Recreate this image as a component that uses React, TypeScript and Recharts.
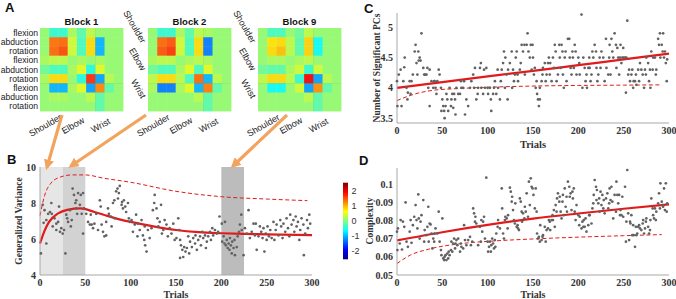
import React from 'react'
import {
  ComposedChart,
  ScatterChart,
  BarChart,
  Scatter,
  Line,
  Bar,
  XAxis,
  YAxis,
  ReferenceArea,
  ReferenceLine,
} from 'recharts'

// ---------- data ----------
const trialTicks = [0, 50, 100, 150, 200, 250, 300]
const varianceTicks = [4, 6, 8, 10]
const pcTicks = [3.5, 4, 4.5, 5]
const complexityTicks = [0.05, 0.06, 0.07, 0.08, 0.09, 0.1]
const colorbarTicks = [-2, -1, 0, 1, 2]

const jointRows = ['flexion', 'abduction', 'rotation', 'flexion', 'abduction', 'rotation', 'flexion', 'abduction', 'rotation']
const jointGroups = ['Shoulder', 'Elbow', 'Wrist']
const groupCenters = [1.5, 4.5, 7.5]
const rowCenters = [0.5, 1.5, 2.5, 3.5, 4.5, 5.5, 6.5, 7.5, 8.5]
const blockNames = ['Block 1', 'Block 2', 'Block 9']

const block1 = [
  [0.1, -0.4, -0.4, 0.2, -0.2, 0.3, 0.1, 0.1, 0.1],
  [0.1, 1.35, 1.4, 0.4, -0.3, 0.8, -1.0, 0.1, 0.1],
  [0.1, 1.4, 1.55, 0.4, -0.3, 0.8, -1.0, 0.1, 0.1],
  [0.2, 0.3, 0.3, 0.1, 0.2, 0.1, 0.2, 0.1, 0.1],
  [-0.1, -0.3, -0.3, 0.2, 0.5, -0.5, 0.5, 0.1, 0.1],
  [0.2, 0.8, 0.8, 0.1, -0.5, 1.7, -1.1, 0.3, 0.1],
  [0.1, -1.0, -1.0, 0.2, 0.5, -1.1, 1.25, -0.2, 0.1],
  [0.1, 0.2, 0.2, 0.1, 0.1, 0.3, -0.2, 0.1, 0.1],
  [0.1, 0.1, 0.1, 0.1, 0.1, 0.1, -0.2, 0.1, 0.1],
]
const block2 = [
  [0.1, -0.4, -0.4, 0.2, -0.2, 0.3, 0.2, 0.1, 0.1],
  [0.1, 1.4, 1.5, 0.4, -0.3, 0.8, -1.3, 0.1, 0.1],
  [0.1, 1.5, 1.65, 0.4, -0.3, 0.8, -1.3, 0.1, 0.1],
  [0.2, 0.3, 0.3, 0.1, 0.2, 0.3, 0.2, 0.1, 0.1],
  [-0.1, -0.3, -0.3, 0.2, 0.5, -0.3, 0.5, 0.1, 0.1],
  [0.3, 0.8, 0.8, 0.3, -0.3, 1.4, -1.0, 0.3, 0.1],
  [0.2, -1.3, -1.3, 0.2, 0.5, -1.0, 1.3, -0.2, 0.1],
  [0.1, 0.1, 0.1, 0.1, 0.1, 0.3, -0.2, 0.1, 0.1],
  [0.1, 0.1, 0.1, 0.1, 0.1, 0.1, -0.2, 0.1, 0.1],
]
const block9 = [
  [0.1, -0.3, -0.3, 0.1, -0.1, 0.3, 0.1, 0.1, 0.1],
  [0.1, 0.75, 0.8, 0.3, -0.2, 0.85, -0.6, 0.1, 0.1],
  [0.1, 0.8, 0.95, 0.3, -0.2, 0.85, -0.6, 0.1, 0.1],
  [0.1, 0.2, 0.2, 0.1, 0.2, 0.3, 0.1, 0.1, 0.1],
  [-0.1, -0.2, -0.2, 0.2, 0.4, -0.4, 0.4, 0.1, 0.1],
  [0.3, 0.8, 0.8, 0.3, -0.4, 1.95, -1.1, 0.3, 0.1],
  [0.1, -0.6, -0.6, 0.1, 0.4, -1.1, 1.2, -0.2, 0.1],
  [0.1, 0.1, 0.1, 0.1, 0.1, 0.3, -0.2, 0.1, 0.1],
  [0.1, 0.1, 0.1, 0.1, 0.1, 0.1, -0.2, 0.1, 0.1],
]

// trial windows shaded in panel B
const shadedTrials = [[0, 25], [25, 50], [200, 225]]

// panel B: generalized variance
const variancePoints: [number, number][] = [
  [1, 5.2], [3, 7.9], [4, 6.9], [5, 7.6], [7, 7.05], [7, 5.75], [9, 7.4], [11, 7.5], [12.5, 8.0], [13, 7.4],
  [14, 6.7], [16, 7.15], [18, 6.85], [18, 6.5], [20, 6.95], [21, 7.8], [22, 6.4], [23.5, 6.6], [25, 6.3], [26.5, 6.5],
  [28, 5.2], [29, 7.35], [30, 7.15], [31, 6.95], [33, 7.6], [34, 6.7], [35, 7.05], [36, 8.8], [37.5, 8.45], [39, 8.0],
  [40, 8.15], [40, 7.7], [41, 7.4], [42, 8.55], [44, 7.9], [45, 8.45], [46, 7.4], [47.5, 8.55], [48.5, 7.7], [47.5, 6.3],
  [51, 7.4], [53, 6.95], [55, 6.8], [56, 7.35], [57, 6.8], [58.5, 6.6], [60, 6.85], [62, 7.4], [64, 6.5], [66, 8.15],
  [67, 7.8], [68, 6.8], [69.5, 6.4], [71, 6.15], [73, 6.2], [73, 6.95], [75, 7.7], [76, 7.4], [78, 7.25], [79, 6.7],
  [80.5, 8.0], [82, 8.15], [82.5, 7.15], [84, 8.65], [85.5, 8.8], [86, 8.25], [87, 8.55], [88, 8.95], [90, 7.9], [90.5, 8.05],
  [91.5, 7.7], [92.5, 8.15], [94, 7.8], [95, 7.5], [97, 8.0], [98, 7.15], [99, 6.95], [101, 7.05], [102.5, 6.4], [104.5, 6.8],
  [106, 7.35], [107.5, 6.15], [108, 6.85], [110, 6.5], [112, 7.05], [113.5, 6.2], [115, 5.95], [115.5, 6.7], [116, 5.65], [117.5, 5.3],
  [119, 6.5], [121, 6.05], [123, 6.6], [124.5, 7.6], [126, 8.0], [126.5, 8.45], [128.5, 7.7], [129.5, 7.15], [130.5, 6.7], [132, 6.95],
  [133.5, 7.9], [134.5, 6.3], [136, 6.5], [137.5, 7.05], [139.5, 6.8], [141, 6.15], [143, 6.6], [145, 6.3], [147, 6.85], [148.5, 5.95],
  [150.5, 6.05], [152.5, 7.15], [153.5, 6.5], [154.5, 5.95], [155.5, 5.65], [154.5, 4.95], [157, 5.4], [158, 5.0], [159, 5.55], [160.5, 5.3],
  [162, 5.5], [163.5, 6.15], [164.5, 5.2], [165.5, 5.85], [167.5, 5.55], [169, 6.05], [171, 5.75], [171.5, 6.2], [173, 5.4], [174.5, 5.95],
  [176.5, 6.15], [177.5, 5.65], [179, 6.4], [180, 6.05], [182, 6.2], [183, 5.5], [184, 5.85], [185.5, 6.15], [187.5, 6.4], [188.5, 5.95],
  [190, 6.6], [191, 6.2], [193, 6.5], [195, 6.3], [196.5, 6.4], [198, 7.25], [200.5, 6.85], [201, 5.85], [202.5, 6.15], [203.5, 5.75],
  [204, 6.95], [205, 5.65], [206, 5.95], [207, 5.5], [208, 5.75], [209, 5.4], [209.5, 6.05], [210.5, 5.65], [211.5, 5.2], [212, 5.85],
  [213.5, 5.5], [214.5, 5.95], [215, 5.1], [217, 5.55], [218, 6.15], [219.5, 6.4], [220.5, 6.8], [222, 7.35], [222.5, 6.5], [224.5, 5.1],
  [226, 6.6], [228, 6.3], [230, 7.6], [231.5, 6.05], [233.5, 6.4], [235.5, 6.85], [237, 6.2], [238, 6.85], [239, 5.4], [241, 6.15],
  [242.5, 6.7], [244, 6.4], [245.5, 6.05], [246.5, 6.6], [247.5, 5.3], [249, 6.3], [250, 5.95], [251, 6.7], [252.5, 6.15], [254, 6.5],
  [255.5, 6.05], [257.5, 6.95], [258.5, 5.95], [260, 6.5], [261, 6.8], [263, 6.2], [265, 7.05], [266, 6.7], [267.5, 6.05], [268.5, 6.85],
  [270.5, 6.4], [272, 7.15], [273.5, 6.6], [275, 6.15], [276, 7.35], [277.5, 6.8], [279.5, 7.05], [280.5, 6.4], [282, 7.25], [283, 6.7],
  [284.5, 6.95], [286, 5.95], [287, 6.5], [288.5, 7.15], [290.5, 6.8], [291, 5.1], [292.5, 6.3], [294.5, 7.05], [295.5, 6.6], [297, 7.35],
  [298, 6.85],
]
const varianceFit: [number, number][] = [
  [0, 5.75], [5, 6.45], [10, 6.95], [20, 7.42], [30, 7.62], [45, 7.7], [60, 7.5], [70, 7.35], [80, 7.2], [90, 7.06],
  [100, 6.95], [125, 6.7], [150, 6.5], [175, 6.38], [200, 6.32], [225, 6.28], [250, 6.26], [300, 6.22],
]
const varianceUpper: [number, number][] = [
  [0, 7.3], [5, 8.4], [12, 9.1], [23, 9.45], [35, 9.56], [50, 9.56], [70, 9.38], [100, 9.15], [150, 8.65], [200, 8.35],
  [250, 8.22], [295, 8.13],
]

// panel C: number of significant PCs
const pcPoints: [number, number][] = [
  [0, 4.11], [0.5, 3.7], [2, 4.22], [4, 4.3], [5, 3.7], [7, 4.11], [8, 4.34], [8.5, 4.5], [10.5, 4.0], [11.5, 3.81],
  [12, 3.92], [14, 4.11], [15, 3.9], [16, 4.11], [17.5, 4.22], [19.5, 4.6], [20.5, 4.71], [21.5, 4.41], [22.5, 4.22], [23.5, 4.6],
  [24, 4.45], [25, 4.5], [26, 4.45], [27, 4.9], [29, 4.33], [30, 4.22], [31, 4.22], [32.5, 4.22], [33.5, 4.33], [34.5, 4.0],
  [36, 4.3], [36, 3.7], [38, 4.11], [40, 4.0], [41, 4.11], [41.5, 4.11], [42.5, 4.0], [43.5, 3.9], [44.5, 4.11], [46, 4.3],
  [47, 4.22], [48.5, 4.0], [49, 3.62], [50, 3.81], [51, 3.7], [52, 3.62], [52.5, 3.5], [53.5, 3.7], [54.5, 3.9], [55.5, 3.81],
  [56.5, 3.62], [58, 4.0], [59.5, 3.7], [60, 3.81], [61, 3.9], [62, 3.67], [63, 3.9], [64, 3.81], [64.5, 3.56], [65.5, 4.0],
  [67.5, 3.9], [69.5, 3.9], [70.5, 4.11], [71, 4.0], [73, 4.0], [74, 4.11], [75, 3.56], [76.5, 3.81], [78.5, 3.7], [80.5, 4.0],
  [82, 4.11], [84, 4.22], [85, 4.0], [86, 4.33], [87.5, 3.81], [89, 3.9], [89.5, 4.0], [91.5, 4.33], [92.5, 4.41], [93, 4.0],
  [95, 3.9], [96, 4.3], [97, 4.0], [98.5, 4.33], [100, 4.0], [100.5, 3.9], [102.5, 4.0], [103.5, 3.81], [104, 3.62], [106, 3.9],
  [107, 4.0], [108, 4.11], [109.5, 3.9], [111, 4.3], [111.5, 4.0], [113.5, 3.81], [114.5, 4.11], [115.5, 4.3], [117, 4.41], [118, 4.6],
  [119, 4.0], [119.5, 4.5], [121, 4.22], [122, 3.81], [122.5, 4.3], [124.5, 4.41], [126.5, 4.6], [127, 4.0], [128, 4.3], [129, 4.11],
  [130, 4.22], [131, 4.5], [132, 4.6], [133, 4.22], [133.5, 4.11], [135.5, 4.3], [136.5, 4.41], [137.5, 4.71], [139, 4.6], [140.5, 4.71],
  [141, 4.22], [143, 4.71], [144, 4.9], [145, 4.6], [146.5, 4.5], [147.5, 4.71], [148.5, 4.3], [149.5, 4.71], [150, 4.5], [151, 4.22],
  [152, 4.33], [153, 4.0], [154, 4.11], [154.5, 3.9], [155.5, 3.81], [156.5, 3.7], [157.5, 3.81], [157.5, 4.0], [159.5, 4.11], [160.5, 4.22],
  [161, 4.33], [163, 4.41], [164, 4.11], [165, 4.22], [166.5, 4.41], [167.5, 4.5], [168.5, 4.22], [169, 4.41], [170.5, 4.11], [172, 4.5],
  [173, 4.33], [174, 4.71], [175, 4.6], [176, 4.11], [177.5, 4.22], [179, 4.71], [179.5, 4.5], [180.5, 4.33], [181.5, 4.71], [182.5, 4.6],
  [183, 4.22], [184, 4.0], [185, 4.5], [186, 4.6], [187, 4.11], [188.5, 4.81], [190, 4.81], [190.5, 4.5], [191.5, 4.33], [192.5, 4.22],
  [193.5, 4.6], [194, 4.5], [195, 4.33], [196, 4.71], [197, 4.6], [198, 4.22], [200, 4.5], [201, 4.41], [201.5, 4.22], [203.5, 5.21],
  [204.5, 4.0], [205.5, 4.5], [207, 4.33], [208, 4.11], [209, 4.22], [209.5, 4.0], [211, 4.33], [212, 4.5], [212.5, 4.33], [213.5, 4.11],
  [214.5, 4.22], [215.5, 4.6], [216.5, 4.5], [218, 4.71], [219.5, 4.6], [220, 4.33], [221, 4.11], [222, 4.22], [223.5, 4.5], [224.5, 4.33],
  [225.5, 4.6], [227.5, 4.5], [229, 4.11], [230.5, 4.81], [231, 4.33], [233, 4.22], [234, 4.5], [234.5, 4.71], [235.5, 4.22], [236.5, 4.81],
  [237.5, 4.6], [238.5, 4.5], [240, 4.9], [241.5, 4.71], [242, 4.33], [243, 4.66], [244, 4.5], [245, 4.22], [246, 4.5], [246.5, 4.71],
  [247.5, 4.41], [248.5, 4.5], [249.5, 4.66], [250, 4.5], [251.5, 4.5], [252.5, 3.92], [253, 4.5], [254, 5.11], [255, 4.22], [256, 4.3],
  [257, 4.11], [258.5, 4.22], [259.5, 4.3], [260.5, 4.0], [261, 4.11], [262.5, 4.11], [263.5, 4.22], [264, 4.05], [266, 4.3], [267, 4.11],
  [268, 4.41], [269.5, 4.3], [271, 4.22], [272.5, 4.0], [273.5, 4.3], [274.5, 4.22], [275, 4.5], [277, 4.41], [278, 4.11], [279, 4.3],
  [279.5, 4.0], [280.5, 4.6], [282, 4.3], [282.5, 4.5], [284.5, 4.5], [285.5, 4.22], [286, 4.3], [288, 4.81], [289, 4.71], [290, 4.9],
  [290.5, 4.5], [292, 4.71], [293, 4.6], [293.5, 4.9], [294.5, 4.5], [295.5, 4.6], [296.5, 4.41], [297.5, 4.11], [298, 4.47],
]
const pcFit: [number, number][] = [
  [0, 4.0], [50, 4.095], [100, 4.19], [150, 4.28], [200, 4.375], [250, 4.47], [300, 4.565],
]
const pcLower: [number, number][] = [
  [0, 3.79], [10, 3.85], [20, 3.9], [40, 3.96], [70, 3.99], [100, 4.01], [150, 4.03], [200, 4.04], [250, 4.045], [292, 4.05],
]

// panel D: complexity
const complexityPoints: [number, number][] = [
  [0, 0.0738], [0.5, 0.0637], [1, 0.0756], [3, 0.0673], [4, 0.0802], [5.5, 0.064], [6.5, 0.0793], [8, 0.0765], [9.5, 0.0899], [10.5, 0.0683],
  [12, 0.0655], [14, 0.0738], [15, 0.0802], [16, 0.0677], [17.5, 0.0774], [19, 0.082], [20.5, 0.0884], [21.5, 0.0802], [22.5, 0.0756], [23.5, 0.0943],
  [24, 0.0811], [25, 0.07], [26, 0.0793], [27, 0.0829], [29, 0.0912], [30, 0.0683], [30.5, 0.0747], [32.5, 0.0719], [33.5, 0.0765], [34.5, 0.0875],
  [35, 0.0683], [36, 0.0783], [37, 0.0778], [38, 0.0728], [39, 0.0646], [40, 0.07], [41, 0.0683], [41.5, 0.0728], [42.5, 0.0756], [44.5, 0.0728],
  [46, 0.0848], [47, 0.0683], [48.5, 0.0637], [49, 0.0609], [50, 0.0811], [51, 0.0591], [52, 0.0582], [52.5, 0.06], [53.5, 0.0609], [54.5, 0.0582],
  [55.5, 0.0618], [56.5, 0.0591], [57, 0.0628], [58, 0.0609], [59.5, 0.0637], [60, 0.0683], [61, 0.0628], [62, 0.0673], [63, 0.07], [64, 0.0646],
  [64.5, 0.0673], [65.5, 0.0692], [66.5, 0.0664], [67.5, 0.07], [69.5, 0.0628], [70.5, 0.0673], [71, 0.0655], [73, 0.0646], [74, 0.0774], [75, 0.0692],
  [76.5, 0.0664], [78.5, 0.0692], [80.5, 0.071], [81.5, 0.0664], [83, 0.0683], [84, 0.0866], [85, 0.0839], [86, 0.0793], [86.5, 0.082], [87.5, 0.0783],
  [89.5, 0.0664], [91.5, 0.0765], [92.5, 0.0683], [93, 0.0802], [94, 0.0738], [95, 0.0793], [96, 0.082], [97, 0.07], [98.5, 0.1035], [100, 0.0683],
  [100.5, 0.0628], [101.5, 0.0655], [102.5, 0.0683], [103.5, 0.0628], [104, 0.0664], [105, 0.07], [106, 0.0673], [107, 0.0646], [108, 0.0692], [108.5, 0.0655],
  [109.5, 0.0728], [111, 0.0765], [111.5, 0.0802], [113.5, 0.0756], [115.5, 0.0976], [116, 0.0866], [117, 0.0728], [118, 0.07], [119, 0.0802], [119.5, 0.082],
  [121, 0.0811], [122, 0.0756], [122.5, 0.0829], [124.5, 0.098], [125.5, 0.0958], [126.5, 0.0903], [127, 0.093], [128, 0.0857], [129, 0.0802], [130, 0.0783],
  [130.5, 0.0894], [132, 0.0765], [133, 0.0774], [133.5, 0.0756], [134.5, 0.0747], [135.5, 0.0921], [136.5, 0.0903], [137.5, 0.0848], [138, 0.0793], [139, 0.0839],
  [140.5, 0.0811], [141, 0.0875], [142, 0.0848], [143, 0.0949], [144.5, 0.082], [145.5, 0.1013], [146.5, 0.0884], [147.5, 0.1031], [148.5, 0.0985], [149.5, 0.0976],
  [150.5, 0.094], [152, 0.0866], [153, 0.0976], [154, 0.0848], [154.5, 0.0728], [155.5, 0.07], [156.5, 0.071], [157.5, 0.0683], [158, 0.0774], [159.5, 0.0692],
  [160.5, 0.071], [161, 0.0719], [163, 0.0765], [164, 0.0683], [165, 0.0747], [166.5, 0.0756], [167.5, 0.0802], [168.5, 0.0793], [169, 0.0747], [170.5, 0.0802],
  [171.5, 0.0829], [172, 0.0802], [173, 0.0857], [174, 0.0765], [175, 0.0884], [176, 0.0848], [176.5, 0.0921], [177.5, 0.0949], [179, 0.0903], [179.5, 0.093],
  [180.5, 0.0848], [181.5, 0.0811], [182.5, 0.0903], [183, 0.094], [184, 0.0829], [185, 0.0976], [186, 0.0875], [187, 0.093], [187.5, 0.0848], [188.5, 0.1013],
  [190, 0.0985], [190.5, 0.093], [191.5, 0.0949], [192.5, 0.0857], [193.5, 0.0958], [194, 0.0921], [195, 0.0976], [196, 0.0848], [197, 0.0802], [198, 0.0884],
  [200, 0.0829], [201, 0.0774], [201.5, 0.082], [203.5, 0.0756], [204.5, 0.0793], [205.5, 0.0765], [206, 0.0802], [207, 0.0765], [208, 0.0811], [209, 0.0738],
  [211, 0.0774], [212, 0.0829], [212.5, 0.0829], [214.5, 0.0783], [215.5, 0.0866], [216.5, 0.0894], [217, 0.094], [218, 0.1022], [219.5, 0.0985], [220, 0.0912],
  [220.5, 0.0967], [222, 0.0894], [223, 0.0921], [223.5, 0.0848], [224.5, 0.0958], [225.5, 0.0884], [226.5, 0.094], [227.5, 0.0866], [228, 0.0912], [229, 0.0839],
  [230.5, 0.0921], [232, 0.0949], [233, 0.0866], [234, 0.0894], [234.5, 0.0976], [235.5, 0.0912], [236.5, 0.0985], [237.5, 0.0903], [238.5, 0.0811], [240, 0.094],
  [241.5, 0.0848], [242, 0.1013], [243, 0.094], [244, 0.0894], [245, 0.094], [246, 0.0829], [246.5, 0.0857], [247.5, 0.0829], [248.5, 0.093], [249.5, 0.082],
  [251.5, 0.0985], [252.5, 0.0683], [253, 0.0793], [254, 0.1077], [255, 0.0839], [256, 0.0692], [257, 0.0793], [257.5, 0.0783], [258.5, 0.0829], [259.5, 0.0719],
  [260.5, 0.0774], [261, 0.0719], [262.5, 0.0655], [263.5, 0.0765], [264, 0.0719], [265, 0.0728], [266, 0.0765], [267, 0.0774], [268, 0.0756], [269.5, 0.0747],
  [271, 0.0783], [271.5, 0.0802], [272.5, 0.0728], [273.5, 0.0756], [274.5, 0.0793], [275, 0.0811], [277, 0.0765], [278, 0.0728], [279, 0.0747], [279.5, 0.0802],
  [280.5, 0.0921], [282, 0.0866], [282.5, 0.0829], [283.5, 0.0811], [284.5, 0.0866], [285.5, 0.0802], [286, 0.0848], [288, 0.0894], [289, 0.0949], [290, 0.0866],
  [290.5, 0.1004], [292, 0.0903], [293, 0.0884], [293.5, 0.0875], [294.5, 0.0976], [295.5, 0.0857], [296.5, 0.1004], [297.5, 0.0848], [298, 0.0894],
]
const complexityFit: [number, number][] = [
  [0, 0.069], [50, 0.0735], [100, 0.0775], [150, 0.081], [200, 0.0838], [250, 0.0864], [300, 0.0888],
]
const complexityLower: [number, number][] = [
  [0, 0.0563], [15, 0.061], [35, 0.0642], [70, 0.0672], [110, 0.0688], [150, 0.0698], [200, 0.0708], [250, 0.0716], [292, 0.0722],
]

// ---------- helpers ----------
const CB_MIN = -2.55
const CB_MAX = 2.55

// MATLAB-style jet, slightly muted like the printed figure
function jet(v: number, mute = 0.1) {
  const t = Math.min(1, Math.max(0, (v - CB_MIN) / (CB_MAX - CB_MIN)))
  const ch = (d: number) => {
    const c = 255 * Math.min(1, Math.max(0, 1.5 - Math.abs(4 * t - d)))
    return Math.round(c * (1 - mute) + 190 * mute)
  }
  return `rgb(${ch(3)},${ch(2)},${ch(1)})`
}

const toXY = (arr: [number, number][]) => arr.map(([t, v]) => ({ t, v }))

const SANS = 'Liberation Sans, Arial, sans-serif'
const SERIF = 'Liberation Serif, Times New Roman, serif'
const RED = '#e31a1c'
const AXIS = '#a8a8a8'
const tickStyle = { fontFamily: SERIF, fontWeight: 700, fontSize: 10, fill: '#333' }

// ---------- heatmaps ----------
const HM = 83 // plot side of a heatmap
const CELL = HM / 9

function GroupTick(props: any) {
  const { x, y, payload } = props
  const px = x - 7
  const py = y + 17
  return (
    <text x={px} y={py} transform={`rotate(-30 ${px} ${py})`} textAnchor="middle" fontSize={9} fontFamily={SANS} fill="#222">
      {jointGroups[Math.floor(payload.value / 3)]}
    </text>
  )
}

function SideTick(props: any) {
  const { x, y, payload } = props
  const py = y + 2
  return (
    <text x={x} y={py} transform={`rotate(60 ${x} ${py})`} textAnchor="end" fontSize={9} fontFamily={SANS} fill="#222">
      {jointGroups[Math.floor(payload.value / 3)]}
    </text>
  )
}

function Heatmap({ matrix, left, axisW, fullLabels }: { matrix: number[][]; left: number; axisW: number; fullLabels: boolean }) {
  const cells = matrix.flatMap((row, r) => row.map((v, c) => ({ col: c + 0.5, row: r + 0.5, v })))
  return (
    <div style={{ position: 'absolute', left, top: 0 }}>
      <ScatterChart width={axisW + HM + 7} height={140} margin={{ top: 28, right: 7, bottom: 0, left: 0 }}>
        <XAxis
          type="number"
          dataKey="col"
          domain={[0, 9]}
          ticks={groupCenters}
          interval={0}
          axisLine={false}
          tickLine={false}
          tickSize={0}
          tickMargin={0}
          height={29}
          tick={(p: any) => <GroupTick {...p} />}
        />
        {fullLabels ? (
          <YAxis
            type="number"
            dataKey="row"
            domain={[0, 9]}
            reversed
            ticks={rowCenters}
            interval={0}
            axisLine={false}
            tickLine={false}
            tickSize={0}
            tickMargin={2}
            width={axisW}
            tickFormatter={(v: number) => jointRows[Math.floor(v)]}
            tick={{ fontSize: 8.6, fontFamily: SANS, fill: '#222' }}
          />
        ) : (
          <YAxis
            type="number"
            dataKey="row"
            domain={[0, 9]}
            reversed
            ticks={groupCenters}
            interval={0}
            axisLine={false}
            tickLine={false}
            tickSize={0}
            tickMargin={7}
            width={axisW}
            tick={(p: any) => <SideTick {...p} />}
          />
        )}
        <Scatter
          data={cells}
          isAnimationActive={false}
          shape={(p: any) => (
            <rect x={p.cx - CELL / 2} y={p.cy - CELL / 2} width={CELL + 0.4} height={CELL + 0.4} fill={jet(p.payload.v)} />
          )}
        />
        {[3, 6].map((g) => (
          <ReferenceLine key={'x' + g} x={g} stroke="#1d3a1d" strokeWidth={0.9} />
        ))}
        {[3, 6].map((g) => (
          <ReferenceLine key={'y' + g} y={g} stroke="#1d3a1d" strokeWidth={0.9} />
        ))}
      </ScatterChart>
    </div>
  )
}

// ---------- trial panels ----------
type PanelProps = {
  left: number
  top: number
  width: number
  height: number
  marginTop: number
  marginRight: number
  axisW: number
  axisH: number
  yDomain: [number, number]
  yTicks: number[]
  points: [number, number][]
  fit: [number, number][]
  band: [number, number][]
  shaded?: boolean
}

const shadeFills = ['#e6e6e6', '#d2d2d2', '#bcbcbc']

function TrialPanel(p: PanelProps) {
  return (
    <div style={{ position: 'absolute', left: p.left, top: p.top }}>
      <ComposedChart width={p.width} height={p.height} margin={{ top: p.marginTop, right: p.marginRight, bottom: 0, left: 0 }}>
        <XAxis
          type="number"
          dataKey="t"
          domain={[0, 300]}
          ticks={trialTicks}
          interval={0}
          stroke={AXIS}
          tickLine={false}
          tickSize={2}
          tickMargin={2}
          height={p.axisH}
          tick={tickStyle}
        />
        <YAxis
          type="number"
          dataKey="v"
          domain={p.yDomain}
          ticks={p.yTicks}
          interval={0}
          allowDataOverflow
          stroke={AXIS}
          tickLine={false}
          tickSize={2}
          tickMargin={2}
          width={p.axisW}
          tick={tickStyle}
        />
        {p.shaded &&
          shadedTrials.map(([a, b], i) => (
            <ReferenceArea key={i} x1={a} x2={b} y1={p.yDomain[0]} y2={p.yDomain[1]} fill={shadeFills[i]} fillOpacity={1} stroke="none" />
          ))}
        <Scatter
          data={toXY(p.points)}
          isAnimationActive={false}
          shape={(s: any) => <circle cx={s.cx} cy={s.cy} r={1.35} fill="#626262" />}
        />
        <Line
          data={toXY(p.band)}
          dataKey="v"
          type="monotone"
          stroke={RED}
          strokeWidth={1}
          strokeDasharray="4 2.5"
          dot={false}
          isAnimationActive={false}
        />
        <Line
          data={toXY(p.fit)}
          dataKey="v"
          type="monotone"
          stroke={RED}
          strokeWidth={2.2}
          dot={false}
          isAnimationActive={false}
        />
      </ComposedChart>
    </div>
  )
}

// ---------- colorbar ----------
const colorbarData = [{ name: 'scale', range: [CB_MIN, CB_MAX] }]

function Colorbar() {
  const stops = Array.from({ length: 17 }, (_, i) => i / 16)
  return (
    <div style={{ position: 'absolute', left: 336, top: 176 }}>
      <svg width={0} height={0} style={{ position: 'absolute' }}>
        <defs>
          <linearGradient id="jetGrad" x1="0" y1="0" x2="0" y2="1">
            {stops.map((o) => (
              <stop key={o} offset={o} stopColor={jet(CB_MAX - o * (CB_MAX - CB_MIN), 0)} />
            ))}
          </linearGradient>
        </defs>
      </svg>
      <BarChart width={40} height={90} data={colorbarData} margin={{ top: 6.7, right: 0.5, bottom: 6.7, left: 7 }} barCategoryGap={0}>
        <XAxis dataKey="name" hide />
        <YAxis
          orientation="right"
          type="number"
          domain={[CB_MIN, CB_MAX]}
          ticks={colorbarTicks}
          interval={0}
          axisLine={false}
          tickLine={false}
          tickSize={0}
          tickMargin={4}
          width={28}
          tick={{ fontSize: 9, fontFamily: SANS, fill: '#333' }}
        />
        <Bar dataKey="range" fill="url(#jetGrad)" isAnimationActive={false} />
      </BarChart>
    </div>
  )
}

// ---------- overlay: panel letters, titles, arrows ----------
function Overlay() {
  const arrows = [
    [62, 115, 47, 167],
    [146, 115, 71, 166],
    [287, 115, 233, 166],
  ]
  return (
    <svg width={676} height={299} style={{ position: 'absolute', left: 0, top: 0, pointerEvents: 'none' }}>
      <defs>
        <marker id="head" viewBox="0 0 10 10" refX="7" refY="5" markerWidth="3.2" markerHeight="3.2" orient="auto">
          <path d="M0,0 L10,5 L0,10 z" fill="#f2a35e" />
        </marker>
      </defs>
      {arrows.map(([x1, y1, x2, y2], i) => (
        <line key={i} x1={x1} y1={y1} x2={x2} y2={y2} stroke="#f2a35e" strokeWidth={3.2} markerEnd="url(#head)" />
      ))}
      <g fontFamily={SANS} fontWeight={700} fontSize={13} fill="#111">
        <text x={5} y={12}>A</text>
        <text x={7} y={164}>B</text>
        <text x={364} y={13}>C</text>
        <text x={359} y={165}>D</text>
      </g>
      <g fontFamily={SANS} fontWeight={700} fontSize={9.5} fill="#111" textAnchor="middle">
        <text x={81.5} y={25}>{blockNames[0]}</text>
        <text x={189.5} y={25}>{blockNames[1]}</text>
        <text x={299.5} y={25}>{blockNames[2]}</text>
      </g>
      <g fontFamily={SERIF} fontWeight={700} fill="#333" textAnchor="middle">
        <text x={176} y={297.5} fontSize={10}>Trials</text>
        <text x={533} y={147.5} fontSize={10.5}>Trials</text>
        <text x={533} y={297.5} fontSize={10}>Trials</text>
        <text x={22} y={221} fontSize={9.5} transform="rotate(-90 22 221)">Generalized Variance</text>
        <text x={380} y={68} fontSize={9.5} transform="rotate(-90 380 68)">Number of Significant PCs</text>
        <text x={373} y={221} fontSize={9.5} transform="rotate(-90 373 221)">Complexity</text>
      </g>
    </svg>
  )
}

export default function App() {
  return (
    <div style={{ position: 'absolute', left: 0, top: 0, width: 676, height: 299, background: '#fff', overflow: 'hidden' }}>
      <Heatmap matrix={block1} left={0} axisW={40} fullLabels />
      <Heatmap matrix={block2} left={120} axisW={28} fullLabels={false} />
      <Heatmap matrix={block9} left={230} axisW={28} fullLabels={false} />
      <TrialPanel
        left={0}
        top={140}
        width={340}
        height={159}
        marginTop={27}
        marginRight={28}
        axisW={40}
        axisH={24}
        yDomain={[4, 10]}
        yTicks={varianceTicks}
        points={variancePoints}
        fit={varianceFit}
        band={varianceUpper}
        shaded
      />
      <TrialPanel
        left={340}
        top={0}
        width={336}
        height={150}
        marginTop={13}
        marginRight={7}
        axisW={57}
        axisH={27}
        yDomain={[3.42, 5.236]}
        yTicks={pcTicks}
        points={pcPoints}
        fit={pcFit}
        band={pcLower}
      />
      <TrialPanel
        left={340}
        top={140}
        width={336}
        height={159}
        marginTop={28}
        marginRight={7}
        axisW={57}
        axisH={24}
        yDomain={[0.05, 0.1088]}
        yTicks={complexityTicks}
        points={complexityPoints}
        fit={complexityFit}
        band={complexityLower}
      />
      <Colorbar />
      <Overlay />
    </div>
  )
}
